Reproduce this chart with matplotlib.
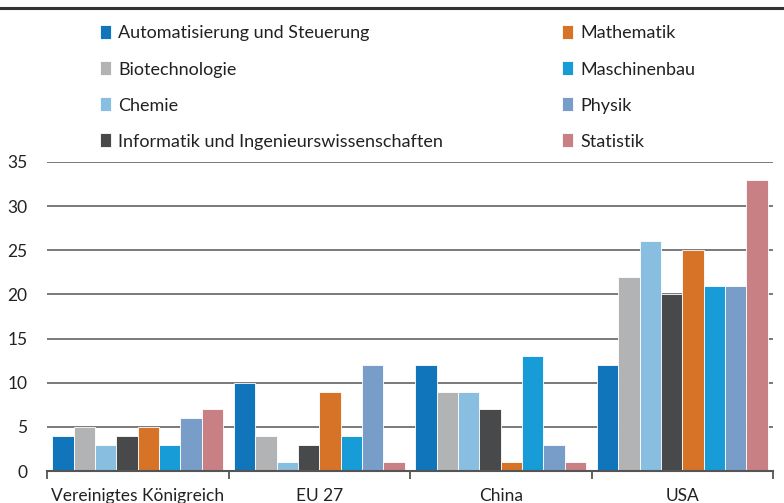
import numpy as np
import matplotlib.pyplot as plt
from matplotlib.lines import Line2D

plt.rcParams['font.family'] = ['Lato', 'DejaVu Sans']

regions = ["Vereinigtes Königreich", "EU 27", "China", "USA"]
fields = ["Automatisierung und Steuerung", "Biotechnologie", "Chemie",
          "Informatik und Ingenieurswissenschaften", "Mathematik",
          "Maschinenbau", "Physik", "Statistik"]
values = {
    "Automatisierung und Steuerung": [4, 10, 12, 12],
    "Biotechnologie": [5, 4, 9, 22],
    "Chemie": [3, 1, 9, 26],
    "Informatik und Ingenieurswissenschaften": [4, 3, 7, 20],
    "Mathematik": [5, 9, 1, 25],
    "Maschinenbau": [3, 4, 13, 21],
    "Physik": [6, 12, 3, 21],
    "Statistik": [7, 1, 1, 33],
}
colors = ["#1175BC", "#B1B3B4", "#88BFE1", "#48494B",
          "#D67327", "#189CD8", "#789DC8", "#C88084"]
yticks = [0, 5, 10, 15, 20, 25, 30, 35]

fig = plt.figure(figsize=(7.84, 5.03), dpi=100)
ax = fig.add_axes([0.06, 0.0636, 0.926, 0.6144])

x = np.arange(len(regions))
n = len(fields)
w = 0.94 / n
for i, f in enumerate(fields):
    ax.bar(x - 0.47 + w * (i + 0.5), values[f], width=w, color=colors[i],
           edgecolor="white", linewidth=0.6, label=f, zorder=3)

ax.set_xlim(-0.5, len(regions) - 0.5)
ax.set_ylim(0, 35)
ax.set_yticks(yticks)
ax.yaxis.grid(True, color="#6e6e6e", linewidth=1.3, zorder=0)
ax.set_xticks(x)
ax.set_xticklabels(regions, fontsize=12.5, color="#222222")
ax.set_xticks(np.arange(-0.5, len(regions)), minor=True)
ax.tick_params(axis="x", which="major", length=0, pad=12)
ax.tick_params(axis="x", which="minor", length=6, width=1.3, color="#555555")
ax.tick_params(axis="y", length=0, labelsize=12.5, labelcolor="#222222", pad=14)
for s in ["top", "right", "left"]:
    ax.spines[s].set_visible(False)
ax.spines["bottom"].set_color("#555555")
ax.spines["bottom"].set_linewidth(1.5)
ax.spines["bottom"].set_zorder(4)

fig.add_artist(Line2D([0, 1], [1 - 8 / 503, 1 - 8 / 503], color="#333333", linewidth=2.2))

handles, labels = ax.get_legend_handles_labels()
fig.legend(handles, labels, ncol=2, loc="upper left",
           bbox_to_anchor=(0.107, 0.982), frameon=False, fontsize=13,
           handlelength=0.6, handleheight=0.8, handletextpad=0.4,
           labelspacing=1.1, columnspacing=6.6, labelcolor="#222222")

fig.savefig("out.png", dpi=100)
